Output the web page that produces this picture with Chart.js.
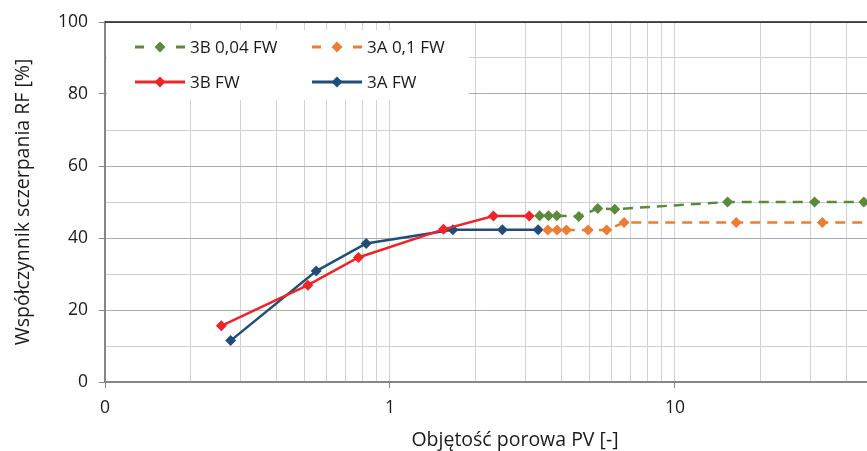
<!DOCTYPE html>
<html><head><meta charset="utf-8">
<script src="https://cdn.jsdelivr.net/npm/chart.js@4/dist/chart.umd.min.js"></script>
<style>html,body{margin:0;padding:0;background:#fff;overflow:hidden}</style>
</head><body>
<canvas id="c" width="867" height="451"></canvas>
<script>
// ---- data ----
const seriesLabels = ['3B 0,04 FW', '3A 0,1 FW', '3B FW', '3A FW'];
const pv3B004 = [3.35, 3.60, 3.85, 4.60, 5.36, 6.15, 15.3, 30.9, 46.0];
const rf3B004 = [46.2, 46.2, 46.2, 46.0, 48.2, 48.0, 50.0, 50.0, 50.0];
const pv3A01  = [3.58, 3.86, 4.16, 4.96, 5.76, 6.63, 16.4, 32.9, 49.4];
const rf3A01  = [42.2, 42.2, 42.2, 42.2, 42.2, 44.3, 44.3, 44.3, 44.3];
const pv3BFW  = [0.256, 0.515, 0.775, 1.541, 2.307, 3.08];
const rf3BFW  = [15.6, 26.9, 34.6, 42.4, 46.1, 46.1];
const pv3AFW  = [0.276, 0.551, 0.825, 1.662, 2.48, 3.31];
const rf3AFW  = [11.5, 30.8, 38.5, 42.3, 42.3, 42.3];
const xGridValues = [0.1,0.2,0.3,0.4,0.5,0.6,0.7,0.8,0.9,1,2,3,4,5,6,7,8,9,10,20,30,40];
const xLabelValues = [0.1, 1, 10];
const xTickLabels = ['0', '1', '10'];
const yTickLabels = ['0', '20', '40', '60', '80', '100'];
const xTitle = 'Objętość porowa PV [-]';
const yTitle = 'Współczynnik sczerpania RF [%]';

const FONT = "'Open Sans', sans-serif";
const pts = (xs, ys) => xs.map((x, i) => ({x: x, y: ys[i]}));

function ds(label, xs, ys, color, dash) {
  return {
    label: label, data: pts(xs, ys),
    borderColor: color, backgroundColor: color,
    borderWidth: 2.5, borderDash: dash || [],
    pointStyle: 'rectRot', pointRadius: 5.5, pointHoverRadius: 5.5,
    pointBorderWidth: 0, tension: 0
  };
}

const legendPlugin = {
  id: 'customLegend',
  afterDraw(chart) {
    const ctx = chart.ctx;
    ctx.save();
    ctx.fillStyle = '#fff';
    ctx.fillRect(107, 30, 362, 70);
    const pos = [[135, 47], [312, 47], [135, 82], [312, 82]];
    chart.data.datasets.forEach((d, i) => {
      const [x0, y] = pos[i];
      ctx.strokeStyle = d.borderColor;
      ctx.lineWidth = 3;
      ctx.setLineDash([]);
      ctx.beginPath();
      if (d.borderDash && d.borderDash.length) {
        ctx.moveTo(x0, y); ctx.lineTo(x0 + 9, y);
        ctx.moveTo(x0 + 41, y); ctx.lineTo(x0 + 50, y);
      } else {
        ctx.moveTo(x0, y); ctx.lineTo(x0 + 50, y);
      }
      ctx.stroke();
      ctx.fillStyle = d.borderColor;
      ctx.beginPath();
      ctx.moveTo(x0 + 25, y - 5.5); ctx.lineTo(x0 + 30.5, y);
      ctx.lineTo(x0 + 25, y + 5.5); ctx.lineTo(x0 + 19.5, y);
      ctx.closePath(); ctx.fill();
      ctx.fillStyle = '#1a1a1a';
      ctx.font = '17px ' + FONT;
      ctx.textAlign = 'left'; ctx.textBaseline = 'middle';
      ctx.fillText(d.label, x0 + 55, y + 1);
    });
    // x axis title
    ctx.font = '19.5px ' + FONT;
    ctx.textAlign = 'center'; ctx.textBaseline = 'middle';
    ctx.fillStyle = '#1a1a1a';
    ctx.fillText(xTitle, 515, 440);
    ctx.restore();
  },
  beforeDatasetsDraw(chart) {
    const ctx = chart.ctx, a = chart.chartArea;
    ctx.save();
    ctx.strokeStyle = '#1a1a1a'; ctx.lineWidth = 1.5;
    ctx.beginPath(); ctx.moveTo(a.left, a.top); ctx.lineTo(a.right, a.top); ctx.stroke();
    ctx.restore();
  }
};

new Chart(document.getElementById('c'), {
  type: 'line',
  data: {
    datasets: [
      ds(seriesLabels[0], pv3B004, rf3B004, '#5B8A3C', [10, 7]),
      ds(seriesLabels[1], pv3A01, rf3A01, '#ED7D31', [10, 7]),
      ds(seriesLabels[2], pv3BFW, rf3BFW, '#EE2428'),
      ds(seriesLabels[3], pv3AFW, rf3AFW, '#1F4E79')
    ]
  },
  options: {
    responsive: false, animation: false,
    layout: {autoPadding: false, padding: {top: 22, right: 0, left: 0, bottom: 0}},
    plugins: {legend: {display: false}, tooltip: {enabled: false}},
    scales: {
      x: {
        type: 'logarithmic', min: 0.1, max: 47.2,
        afterBuildTicks: s => { s.ticks = xGridValues.map(v => ({value: v})); },
        afterFit: s => { s.height = 69; },
        border: {color: '#868686', width: 2},
        grid: {
          color: '#D2D2D2', lineWidth: 1, tickLength: 6,
          tickColor: c => xLabelValues.includes(c.tick && c.tick.value) ? '#868686' : 'rgba(0,0,0,0)'
        },
        ticks: {
          autoSkip: false, maxRotation: 0, padding: 10,
          color: '#1a1a1a', font: {family: FONT, size: 17.5},
          callback: v => { const i = xLabelValues.indexOf(v); return i >= 0 ? xTickLabels[i] : ''; }
        }
      },
      y: {
        min: 0, max: 100,
        afterFit: s => { s.width = 105; },
        border: {color: '#868686', width: 2},
        grid: {
          color: c => (c.tick && c.tick.value % 20 === 0) ? '#ABABAB' : '#CFCFCF',
          lineWidth: 1, tickLength: 6,
          tickColor: c => (c.tick && c.tick.value % 20 === 0) ? '#868686' : 'rgba(0,0,0,0)'
        },
        ticks: {
          stepSize: 10, padding: 11, color: '#1a1a1a', font: {family: FONT, size: 17.5},
          callback: v => v % 20 === 0 ? yTickLabels[v / 20] : ''
        },
        title: {display: true, text: yTitle, color: '#1a1a1a', font: {family: FONT, size: 19.5}, padding: {top: 12, bottom: 0}}
      }
    }
  },
  plugins: [legendPlugin]
});
</script>
</body></html>
